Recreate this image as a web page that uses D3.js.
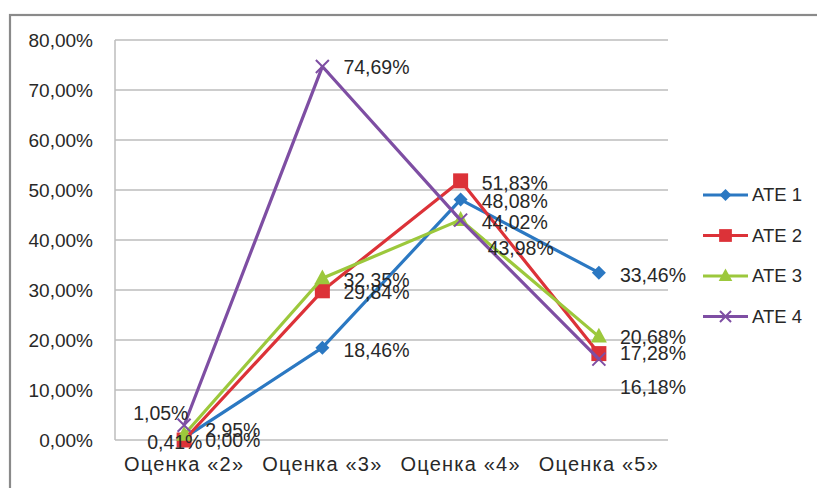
<!DOCTYPE html>
<html><head><meta charset="utf-8">
<script src="https://cdn.jsdelivr.net/npm/d3@7"></script>
<style>
html,body{margin:0;padding:0;background:#fff;}
svg{display:block;font-family:"Liberation Sans","DejaVu Sans",sans-serif;}
</style></head>
<body>
<svg id="chart" width="817" height="488"></svg>
<script>
const categories = ["Оценка «2»", "Оценка «3»", "Оценка «4»", "Оценка «5»"];
const seriesNames = ["ATE 1", "ATE 2", "ATE 3", "ATE 4"];
const ate1 = [0.41, 18.46, 48.08, 33.46];
const ate2 = [0.00, 29.84, 51.83, 17.28];
const ate3 = [1.05, 32.35, 44.02, 20.68];
const ate4 = [2.95, 74.69, 43.98, 16.18];
const yTicks = [0, 10, 20, 30, 40, 50, 60, 70, 80];
const colors = ["#2b78c2", "#dc3238", "#9cc83c", "#7e4ea3"];
const markers = ["diamond", "square", "triangle", "cross"];
// manual label nudges (dx, dy) per series per category, like the reference
const labelNudges = [
  [[-58, 4], [0, 2], [0, 2], [0, 2]],
  [[0, 0], [0, 1], [0, 2], [0, 0]],
  [[-72, -22], [0, 2], [0, 2], [0, 1]],
  [[0, 5], [0, 1], [6, 28], [0, 28]]
];

const seriesValues = [ate1, ate2, ate3, ate4];
const svg = d3.select("#chart");
const fmt = v => v.toFixed(2).replace(".", ",") + "%";
const textColor = "#282828";

// outer frame
svg.append("rect").attr("x", 10).attr("y", 15).attr("width", 830).attr("height", 500)
  .attr("fill", "#fff").attr("stroke", "#8a8a8a").attr("stroke-width", 2.2);

const plot = {left: 115, right: 668, top: 40, bottom: 440};
const x = d3.scaleBand().domain(categories).range([plot.left, plot.right]).padding(0);
const y = d3.scaleLinear().domain([0, 80]).range([plot.bottom, plot.top]);
const cx = c => x(c) + x.bandwidth() / 2;

// grid
svg.append("g").selectAll("line").data(yTicks).join("line")
  .attr("x1", plot.left).attr("x2", plot.right)
  .attr("y1", d => y(d)).attr("y2", d => y(d))
  .attr("stroke", "#bdbdbd").attr("stroke-width", 1.5);
svg.append("line").attr("x1", plot.left).attr("x2", plot.left)
  .attr("y1", plot.top).attr("y2", plot.bottom)
  .attr("stroke", "#bdbdbd").attr("stroke-width", 1.5);

// y axis labels
const yAxis = d3.axisLeft(y).tickValues(yTicks).tickFormat(fmt).tickSize(0).tickPadding(22);
const gy = svg.append("g").attr("transform", `translate(${plot.left},0)`).call(yAxis);
gy.select(".domain").remove();
gy.selectAll("text").attr("font-size", 19).attr("fill", textColor)
  .attr("font-family", "Liberation Sans, sans-serif");

// x axis labels
const xAxis = d3.axisBottom(x).tickSize(0).tickPadding(17);
const gx = svg.append("g").attr("transform", `translate(0,${plot.bottom})`).call(xAxis);
gx.select(".domain").remove();
gx.selectAll("text").attr("font-size", 20).attr("letter-spacing", "1.2px").attr("fill", textColor)
  .attr("font-family", "Liberation Sans, sans-serif");

function drawMarker(g, type, color, s) {
  if (type === "diamond") {
    g.append("path").attr("d", `M0,${-s}L${s},0L0,${s}L${-s},0Z`).attr("fill", color);
  } else if (type === "square") {
    g.append("rect").attr("x", -s).attr("y", -s).attr("width", 2 * s).attr("height", 2 * s).attr("fill", color);
  } else if (type === "triangle") {
    g.append("path").attr("d", `M0,${-s * 1.1}L${s},${s * 0.75}L${-s},${s * 0.75}Z`).attr("fill", color);
  } else {
    g.append("path").attr("d", `M${-s},${-s}L${s},${s}M${-s},${s}L${s},${-s}`)
      .attr("stroke", color).attr("stroke-width", 2).attr("fill", "none");
  }
}
const markerSize = [7, 7.5, 8, 6.5];

const line = d3.line().x((d, i) => cx(categories[i])).y(d => y(d));
seriesValues.forEach((vals, si) => {
  svg.append("path").datum(vals).attr("d", line).attr("fill", "none")
    .attr("stroke", colors[si]).attr("stroke-width", 3.2).attr("stroke-linejoin", "round");
  vals.forEach((v, i) => {
    const g = svg.append("g").attr("transform", `translate(${cx(categories[i])},${y(v)})`);
    drawMarker(g, markers[si], colors[si], markerSize[si]);
  });
});

// data labels
seriesValues.forEach((vals, si) => {
  vals.forEach((v, i) => {
    const [dx, dy] = labelNudges[si][i];
    svg.append("text").attr("x", cx(categories[i]) + 21 + dx).attr("y", y(v) + dy)
      .attr("dy", "0.35em").attr("font-size", 19.5).attr("fill", textColor)
      .text(fmt(v));
  });
});

// legend
const legend = svg.append("g");
seriesNames.forEach((name, si) => {
  const ly = 195 + si * 40.5;
  legend.append("line").attr("x1", 703).attr("x2", 748).attr("y1", ly).attr("y2", ly)
    .attr("stroke", colors[si]).attr("stroke-width", 3.2);
  const g = legend.append("g").attr("transform", `translate(725.5,${ly})`);
  drawMarker(g, markers[si], colors[si], markerSize[si] * 0.85);
  legend.append("text").attr("x", 752).attr("y", ly).attr("dy", "0.35em")
    .attr("font-size", 18.5).attr("fill", textColor).text(name);
});
</script>
</body></html>
